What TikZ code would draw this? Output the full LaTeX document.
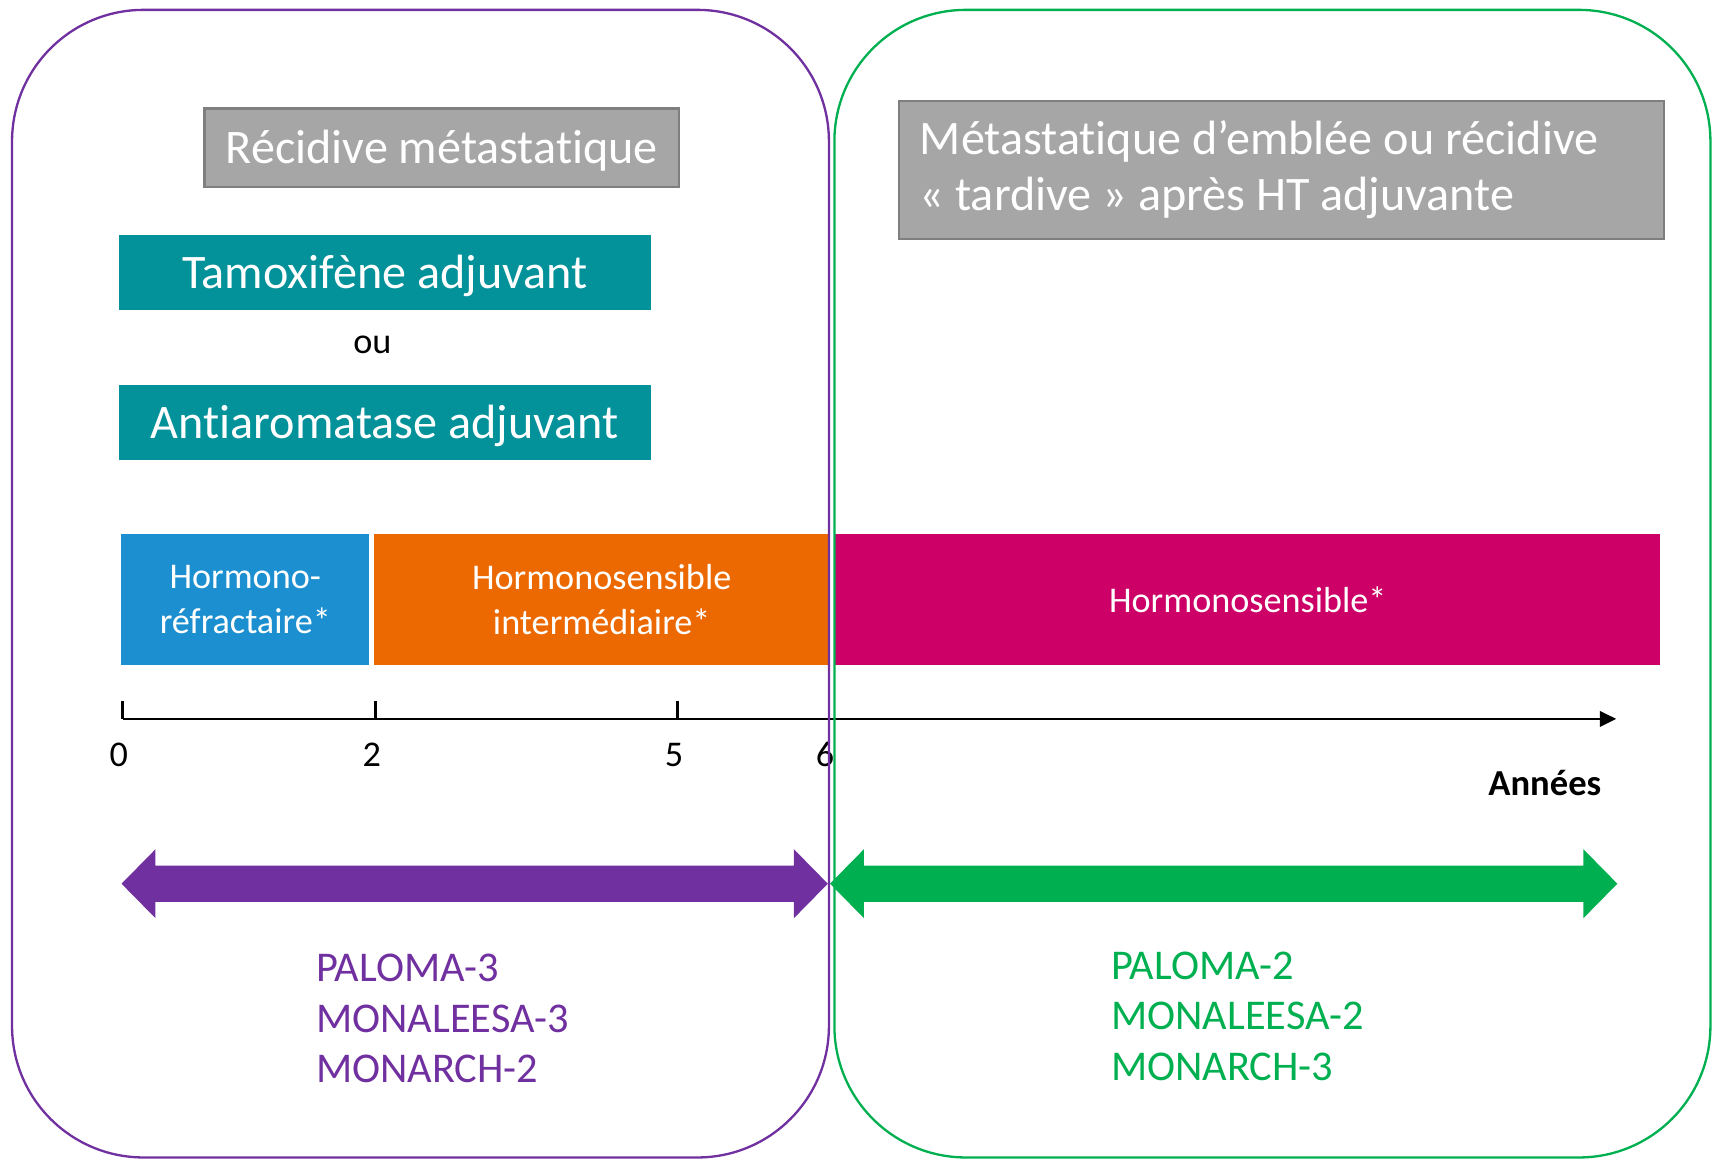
\documentclass[tikz,border=0pt]{standalone}
\usepackage{fontspec}
\setmainfont{Carlito}[Ligatures=NoCommon]
\usetikzlibrary{arrows.meta,calc}
\definecolor{violetF}{RGB}{112,48,160}
\definecolor{vertF}{RGB}{0,176,80}
\definecolor{tealF}{RGB}{3,145,154}
\definecolor{bleuF}{RGB}{27,143,207}
\definecolor{orangeF}{RGB}{236,104,0}
\definecolor{magentaF}{RGB}{204,0,102}
\definecolor{grisF}{RGB}{166,166,166}
\definecolor{grisbord}{RGB}{127,127,127}
% wide double arrow between two points
\newcommand{\grossefleche}[3]{%
  \fill[#3] (#1) -- ++(31,-31.5) -- ++(0,15) -- ($(#2)+(-31,-16.5)$) -- ++(0,-15) -- (#2)
    -- ++(-31,31.5) -- ++(0,-15) -- ($(#1)+(31,16.5)$) -- ++(0,15) -- cycle;}
\begin{document}
\begin{tikzpicture}[x=0.01cm,y=-0.01cm,
  grisbox/.style={draw=grisbord,line width=0.6pt,fill=grisF,text=white,inner sep=0pt,font=\fontsize{12.5}{14.5}\selectfont},
  tealbox/.style={fill=tealF,text=white,inner sep=0pt,minimum width=4.85cm,minimum height=0.68cm,text height=0.3cm,text depth=0.02cm,font=\fontsize{12.5}{14.5}\selectfont},
  barre/.style={text=white,inner sep=0pt,minimum height=1.19cm,align=center,font=\fontsize{9.4}{11.9}\selectfont},
  essais/.style={anchor=north west,inner sep=0pt,align=left,font=\fontsize{11}{13.1}\selectfont}]
\useasboundingbox (0,0) rectangle (1568,1059);

% headings
\node[grisbox,minimum width=4.33cm,minimum height=0.72cm,text height=0.3cm,text depth=0.02cm] (recidive) at (403.5,135) {Récidive métastatique};
\node[tealbox] (tamox) at (351.5,249) {Tamoxifène adjuvant};
\node[font=\fontsize{9.4}{11}\selectfont] (ou) at (340,315) {ou};
\node[tealbox] (antiaro) at (351.5,386) {Antiaromatase adjuvant};
\node[grisbox,anchor=north west,minimum width=6.98cm,minimum height=1.26cm,text width=6.6cm,align=flush left,inner xsep=0.19cm] (metast) at (820,91) {Métastatique d’emblée ou récidive\\«~tardive~» après HT adjuvante};

% bars
\node[barre,fill=bleuF,minimum width=2.26cm] (refract) at (224,547.5) {Hormono-\\réfractaire*};
\node[barre,fill=orangeF,minimum width=4.15cm] (interm) at (549.5,547.5) {Hormonosensible\\intermédiaire*};
\node[barre,fill=magentaF,minimum width=7.53cm] (sensible) at (1139.5,547.5) {Hormonosensible*};

% time axis
\coordinate (a0) at (112,656.5);
\coordinate (afin) at (1476,656.5);
\draw[line width=0.7pt,-{Triangle[length=0.15cm,width=0.14cm]}] (a0) -- (afin);
\foreach \x/\an in {112/0,343/2,619/5,757/6}{
  \draw[line width=0.7pt] (\x,640) -- (\x,656.5);
  \node[anchor=base,inner sep=0pt,font=\fontsize{9.4}{11}\selectfont] (t\an) at (\x-3.5,700) {\an};
}
\node[anchor=base east,inner sep=0pt,font=\bfseries\fontsize{9.5}{11}\selectfont] (annees) at (1463,726) {Années};

% arrows
\coordinate (pg) at (111,807);
\coordinate (pd) at (756,807);
\coordinate (vg) at (758,807);
\coordinate (vd) at (1477,807);
\grossefleche{pg}{pd}{violetF}
\grossefleche{vg}{vd}{vertF}

% trials
\node[essais,text=violetF] (essais3) at (288,870.6) {PALOMA-3\\MONALEESA-3\\MONARCH-2};
\node[essais,text=vertF] (essais2) at (1014,868.6) {PALOMA-2\\MONALEESA-2\\MONARCH-3};

% frames
\draw[violetF,line width=0.6pt,rounded corners=1.2cm] (11,9) rectangle (757,1057);
\draw[vertF,line width=0.6pt,rounded corners=1.2cm] (762,9) rectangle (1562,1057);
\end{tikzpicture}
\end{document}
